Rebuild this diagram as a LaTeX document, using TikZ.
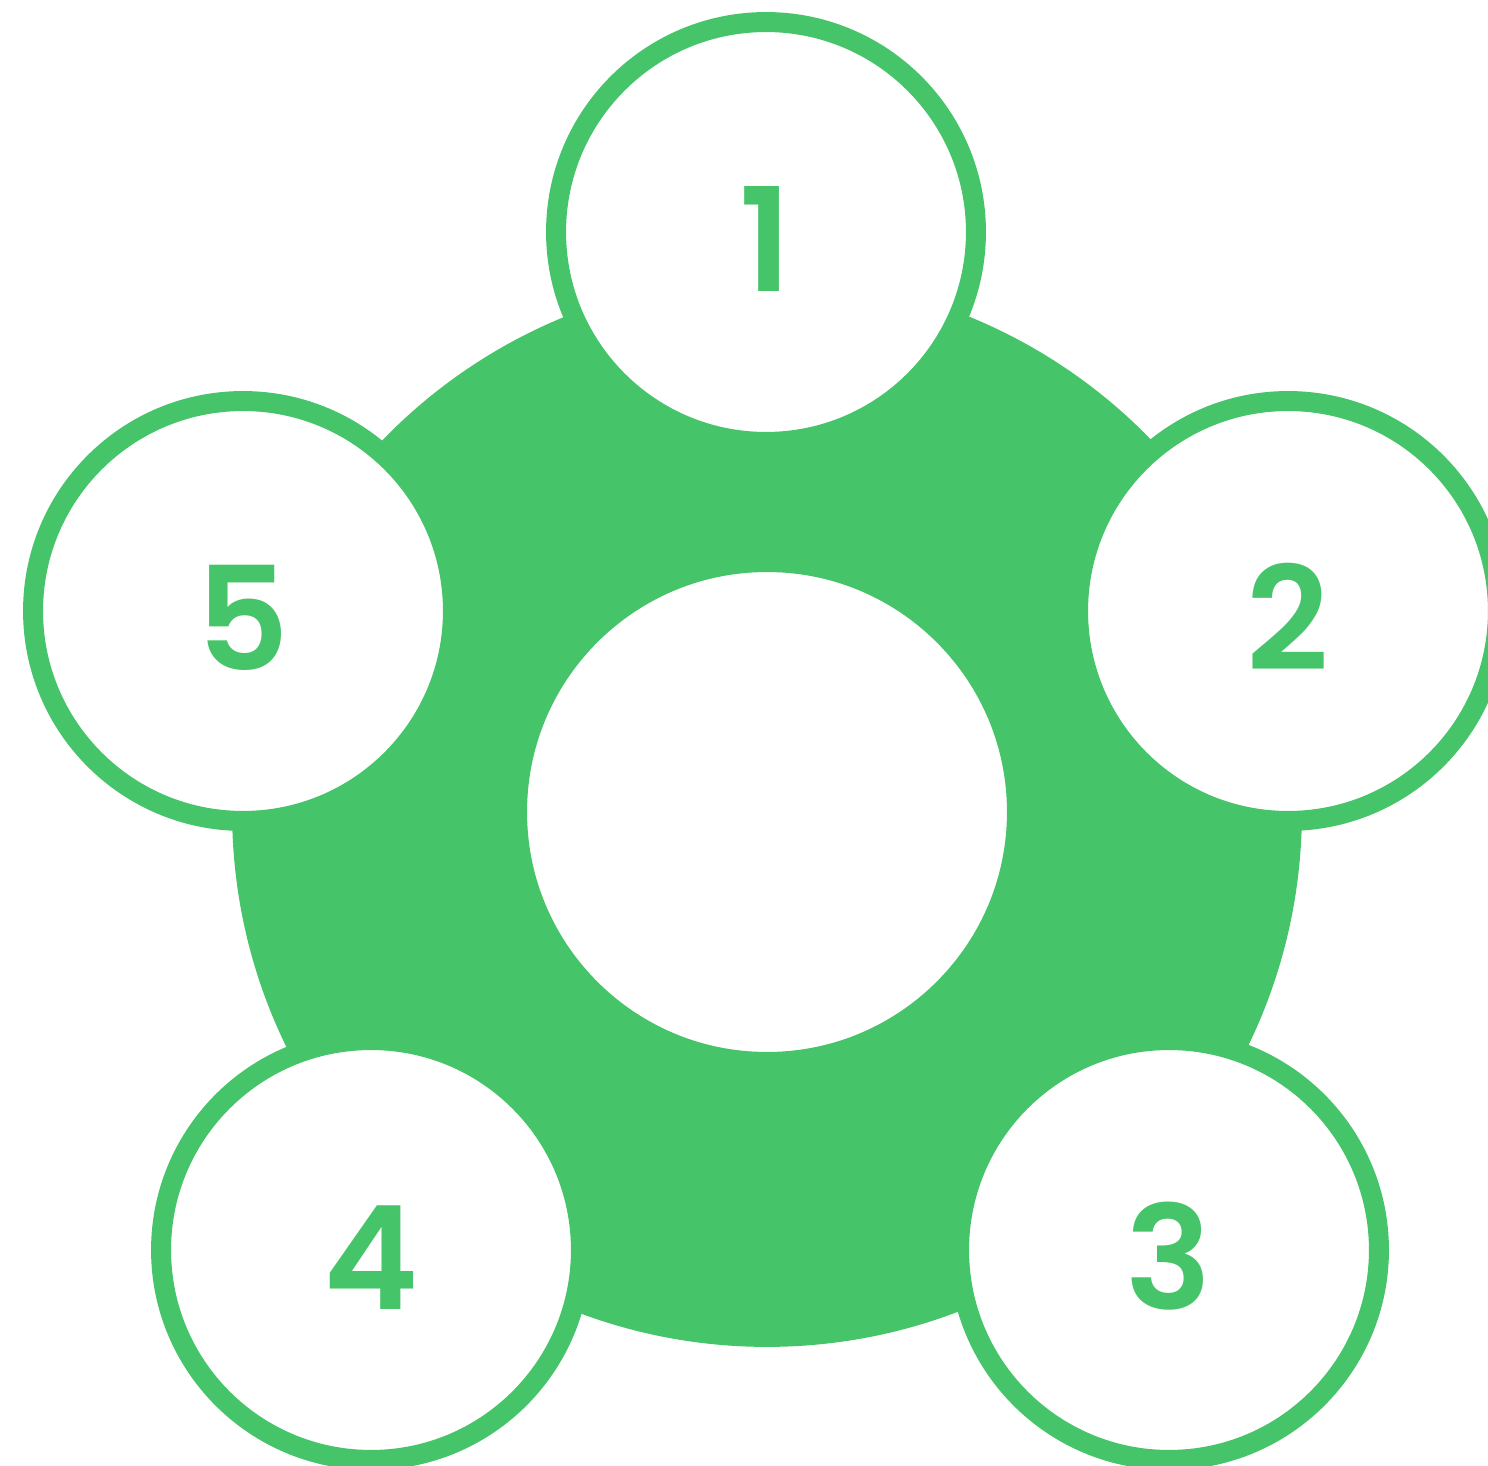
\documentclass[tikz,border=0pt]{standalone}
\usepackage{fontspec}
\setmainfont{Poppins}[BoldFont={Poppins SemiBold}]
\definecolor{ringgreen}{RGB}{70,196,106}

\begin{document}
\begin{tikzpicture}[
    x=0.02cm, y=-0.02cm,
    ring/.style={circle, draw=ringgreen, line width=5.9cm, minimum size=15.5cm, inner sep=0pt},
    stage/.style={circle, draw=ringgreen, fill=white, line width=0.4cm, minimum size=8.4cm, inner sep=0pt, text height=68pt, text depth=0pt, text=ringgreen, font=\fontsize{82}{82}\selectfont\bfseries}
]

% Canvas
\useasboundingbox (0,0) rectangle (1488,1466);

% Central ring
\node[ring] (hub) at (767,812) {};

% Numbered circles around the ring
\node[stage] (s1) at (766,232) {1};
\node[stage] (s2) at (1288,611) {2};
\node[stage] (s3) at (1169,1250) {3};
\node[stage] (s4) at (371,1250) {4};
\node[stage] (s5) at (243,611) {5};

\end{tikzpicture}
\end{document}
